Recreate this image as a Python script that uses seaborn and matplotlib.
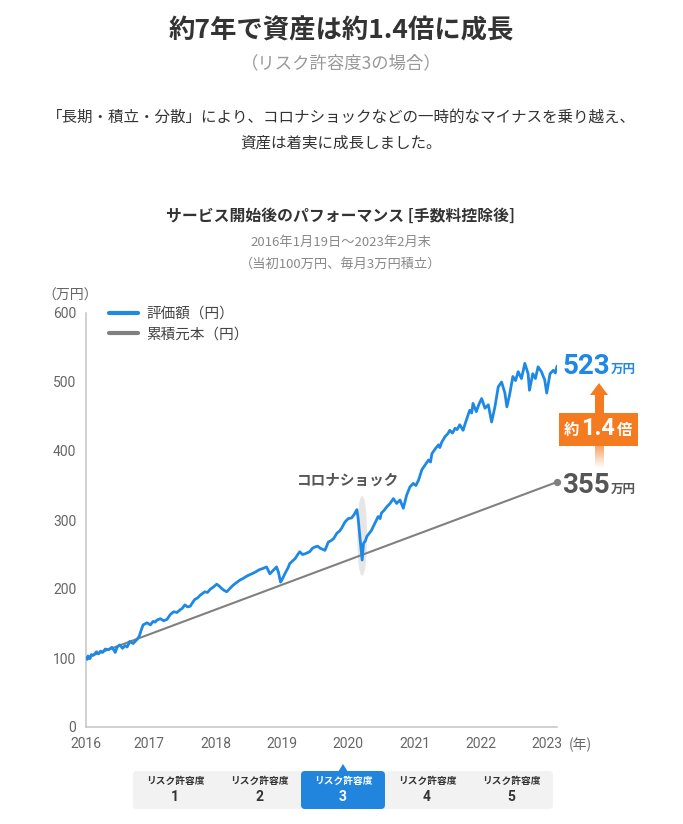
import numpy as np
import pandas as pd
import matplotlib
matplotlib.use("Agg")
import matplotlib.pyplot as plt
import seaborn as sns
from matplotlib.patches import Rectangle, FancyBboxPatch, Ellipse, Polygon
from matplotlib.transforms import blended_transform_factory

sns.set_theme(style="white")
plt.rcParams['font.family'] = ['Roboto', 'Noto Sans CJK JP', 'DejaVu Sans']
JP = ['Noto Sans CJK JP', 'DejaVu Sans']

# 評価額（万円） 読み取り値
years = [2016.05, 2016.07, 2016.08, 2016.11, 2016.13, 2016.16, 2016.21, 2016.24, 2016.27, 2016.30,
         2016.34, 2016.39, 2016.44, 2016.46, 2016.49, 2016.52, 2016.56, 2016.60, 2016.64, 2016.67,
         2016.71, 2016.76, 2016.81, 2016.85, 2016.88, 2016.91, 2016.97, 2017.02, 2017.06, 2017.09,
         2017.12, 2017.17, 2017.22, 2017.27, 2017.32, 2017.37, 2017.42, 2017.47, 2017.50, 2017.54,
         2017.58, 2017.62, 2017.66, 2017.69, 2017.73, 2017.77, 2017.84, 2017.88, 2017.92, 2017.97,
         2018.02, 2018.06, 2018.09, 2018.13, 2018.17, 2018.22, 2018.26, 2018.30, 2018.37, 2018.42,
         2018.46, 2018.50, 2018.57, 2018.61, 2018.65, 2018.72, 2018.77, 2018.82, 2018.87, 2018.92,
         2018.95, 2018.98, 2019.00, 2019.05, 2019.09, 2019.12, 2019.20, 2019.24, 2019.27, 2019.31,
         2019.35, 2019.42, 2019.46, 2019.50, 2019.54, 2019.58, 2019.65, 2019.70, 2019.74, 2019.78,
         2019.83, 2019.87, 2019.90, 2019.95, 2020.00, 2020.05, 2020.09, 2020.13, 2020.15, 2020.18,
         2020.21, 2020.23, 2020.26, 2020.28, 2020.32, 2020.35, 2020.40, 2020.45, 2020.48, 2020.50,
         2020.54, 2020.58, 2020.63, 2020.68, 2020.73, 2020.78, 2020.83, 2020.88, 2020.93, 2020.98,
         2021.02, 2021.06, 2021.11, 2021.16, 2021.21, 2021.24, 2021.26, 2021.31, 2021.36, 2021.38,
         2021.41, 2021.46, 2021.50, 2021.53, 2021.57, 2021.61, 2021.64, 2021.68, 2021.73, 2021.78,
         2021.83, 2021.86, 2021.88, 2021.93, 2021.97, 2022.01, 2022.06, 2022.11, 2022.16, 2022.21,
         2022.26, 2022.31, 2022.36, 2022.39, 2022.43, 2022.48, 2022.52, 2022.56, 2022.61, 2022.66,
         2022.71, 2022.73, 2022.78, 2022.82, 2022.86, 2022.91, 2022.96, 2022.99, 2023.04, 2023.09,
         2023.12, 2023.145]
value = [100, 98, 103, 99, 105, 104, 109, 106, 110, 108,
         113, 112, 115.5, 113, 108, 116, 119, 114, 118, 116,
         124, 121, 126, 131, 140, 148, 151, 148, 153, 152,
         155, 157, 154, 156, 163, 167, 166, 170, 172, 177,
         174, 175, 181, 185, 187, 191, 196, 195, 199.5, 203,
         207, 204, 201, 198, 196, 201, 205, 208, 213, 215.5,
         218, 220, 223, 225, 227.5, 230, 232, 222, 227, 232,
         224, 210, 213, 223, 230, 237, 244, 250, 254, 250,
         251, 254, 259, 261, 262, 259, 256, 268, 270, 273,
         281, 284, 288, 297, 302, 303, 308, 315, 302, 271,
         242, 266, 270, 276, 281, 285, 295, 305, 302, 310,
         314, 319, 324, 331, 324, 329, 317, 336, 348, 353,
         350, 358, 373, 380, 387, 384, 396, 403, 409, 405,
         413, 421, 425, 430, 426, 433, 431, 438, 430, 445,
         459, 455, 469, 457, 468, 476, 462, 467, 442, 464,
         493, 500, 484, 464, 481, 508, 502, 515, 505, 527,
         512, 488, 512, 505, 522, 515, 503, 484, 512, 517,
         513, 523]

# 累積元本（万円）
principal_years = [2016.05, 2023.145]
principal = [100, 355]

year_ticks = [2016.05, 2017, 2018, 2019, 2020, 2021, 2022, 2023]
year_labels = ['2016', '2017', '2018', '2019', '2020', '2021', '2022', '2023']
tabs = ['1', '2', '3', '4', '5']
selected_tab = '3'

BLUE = '#1E88E5'
GRAY = '#808080'
ORANGE = '#F47B20'

df_val = pd.DataFrame({'年': years, '万円': value, '系列': '評価額（円）'})
df_pri = pd.DataFrame({'年': principal_years, '万円': principal, '系列': '累積元本（円）'})

W, H = 683, 824
fig = plt.figure(figsize=(W / 100, H / 100), dpi=100)
ax = fig.add_axes([86 / W, 1 - 727 / H, (557 - 86) / W, (727 - 313) / H])

sns.lineplot(data=df_val, x='年', y='万円', color=BLUE, linewidth=2.0, ax=ax,
             label='評価額（円）', zorder=4)
sns.lineplot(data=df_pri, x='年', y='万円', color=GRAY, linewidth=1.5, ax=ax,
             label='累積元本（円）', zorder=3)
ax.scatter([principal_years[-1]], [principal[-1]], s=18, color=GRAY, zorder=5, clip_on=False)

ax.set_xlim(principal_years[0], principal_years[-1])
ax.set_ylim(0, 600)
ax.set_yticks(range(0, 601, 100))
ax.set_xticks(year_ticks)
ax.set_xticklabels(year_labels)
ax.set_xlabel('')
ax.set_ylabel('')
ax.tick_params(axis='both', labelsize=10, colors='#aaaaaa', labelcolor='#666666',
               length=4, width=1, direction='out', pad=3)
for s in ['top', 'right']:
    ax.spines[s].set_visible(False)
for s in ['left', 'bottom']:
    ax.spines[s].set_color('#c4c4c4')
    ax.spines[s].set_linewidth(1.1)

leg = ax.legend(loc='upper left', bbox_to_anchor=(0.048, 1.015), frameon=False,
                prop={'family': JP, 'size': 10.5}, handlelength=2.0, handletextpad=0.6,
                labelspacing=0.45, borderpad=0, borderaxespad=0)
for t in leg.get_texts():
    t.set_color('#444444')
for h in leg.get_lines():
    h.set_linewidth(3)

# コロナショック
ax.add_patch(Ellipse((2020.21, 277), 0.125, 113, color='#e6e6e6', zorder=2))
ax.text(2020.0, 358, 'コロナショック', family=JP, fontsize=10.5, fontweight='bold',
        color='#555555', ha='center', va='center')

# 右側の注記
tr = blended_transform_factory(ax.transAxes, ax.transData)
xa = (562 - 86) / (557 - 86)
xb = (611 - 86) / (557 - 86)
ax.text(xa, value[-1], str(int(value[-1])), transform=tr, fontsize=20, fontweight='bold',
        color=BLUE, ha='left', va='center', clip_on=False)
ax.text(xb, value[-1] - 5, '万円', transform=tr, family=JP, fontsize=9, fontweight='bold',
        color=BLUE, ha='left', va='center', clip_on=False)
ax.text(xa, principal[-1] - 5, str(principal[-1]), transform=tr, fontsize=20, fontweight='bold',
        color='#555555', ha='left', va='center', clip_on=False)
ax.text(xb, principal[-1] - 10, '万円', transform=tr, family=JP, fontsize=9, fontweight='bold',
        color='#555555', ha='left', va='center', clip_on=False)

# 装飾用（ピクセル座標）
deco = fig.add_axes([0, 0, 1, 1], facecolor='none')
deco.set_zorder(5)

grad = np.ones((60, 1, 4))
grad[:, 0, :3] = matplotlib.colors.to_rgb('#F8A466')
grad[:, 0, 3] = np.linspace(1, 0, 60)
deco.imshow(grad, extent=[595, 604, 468, 446], aspect='auto', interpolation='bilinear', zorder=1)
deco.add_patch(Polygon([[595, 413], [595, 395], [590, 395], [599, 383], [608, 395],
                        [604, 395], [604, 413]], closed=True, color=ORANGE, lw=0))
deco.add_patch(Rectangle((559, 413), 79, 33, color=ORANGE, lw=0))
deco.text(571, 430, '約', family=JP, fontsize=11, fontweight='bold', color='white',
          ha='center', va='center')
deco.text(598, 428.5, '1.4', fontsize=17, fontweight='bold', color='white',
          ha='center', va='center')
deco.text(625, 430, '倍', family=JP, fontsize=11, fontweight='bold', color='white',
          ha='center', va='center')

deco.text(70, 296, '（万円）', family=JP, fontsize=10, color='#666666', ha='center', va='center')
deco.text(569, 745, '(年)', family=JP, fontsize=10, color='#666666', ha='left', va='center')

# タイトル類
deco.text(341, 31, '約7年で資産は約1.4倍に成長', family=JP, fontsize=19, fontweight='bold',
          color='#333333', ha='center', va='center')
deco.text(341, 63, '（リスク許容度3の場合）', family=JP, fontsize=12.5, color='#999999',
          ha='center', va='center')
deco.text(341, 117, '「長期・積立・分散」により、コロナショックなどの一時的なマイナスを乗り越え、',
          family=JP, fontsize=11.2, color='#333333', ha='center', va='center')
deco.text(341, 143, '資産は着実に成長しました。', family=JP, fontsize=11.2, color='#333333',
          ha='center', va='center')
deco.text(341, 216, 'サービス開始後のパフォーマンス [手数料控除後]', family=JP, fontsize=11.4,
          fontweight='bold', color='#333333', ha='center', va='center')
deco.text(341, 242, '2016年1月19日～2023年2月末', family=JP, fontsize=9.5, color='#888888',
          ha='center', va='center')
deco.text(341, 264, '（当初100万円、毎月3万円積立）', family=JP, fontsize=9.5, color='#888888',
          ha='center', va='center')

# リスク許容度タブ
tab_w = 84
x0 = 133
deco.add_patch(FancyBboxPatch((x0, 771), tab_w * len(tabs), 38,
                              boxstyle='round,pad=0,rounding_size=4', color='#f2f2f2', lw=0))
for i, t in enumerate(tabs):
    cx = x0 + tab_w * i + tab_w / 2
    fg = '#333333'
    if t == selected_tab:
        deco.add_patch(FancyBboxPatch((x0 + tab_w * i, 771), tab_w, 38,
                                      boxstyle='round,pad=0,rounding_size=4', color='#2185DE', lw=0))
        deco.add_patch(Polygon([[cx - 5, 772], [cx, 764], [cx + 5, 772]], closed=True,
                               color='#2185DE', lw=0))
        fg = 'white'
    deco.text(cx, 781, 'リスク許容度', family=JP, fontsize=7, fontweight='bold', color=fg,
              ha='center', va='center')
    deco.text(cx, 797, t, fontsize=10, fontweight='bold', color=fg, ha='center', va='center')

deco.set_xlim(0, W)
deco.set_ylim(H, 0)
deco.axis('off')

fig.savefig('out.png', dpi=100)
